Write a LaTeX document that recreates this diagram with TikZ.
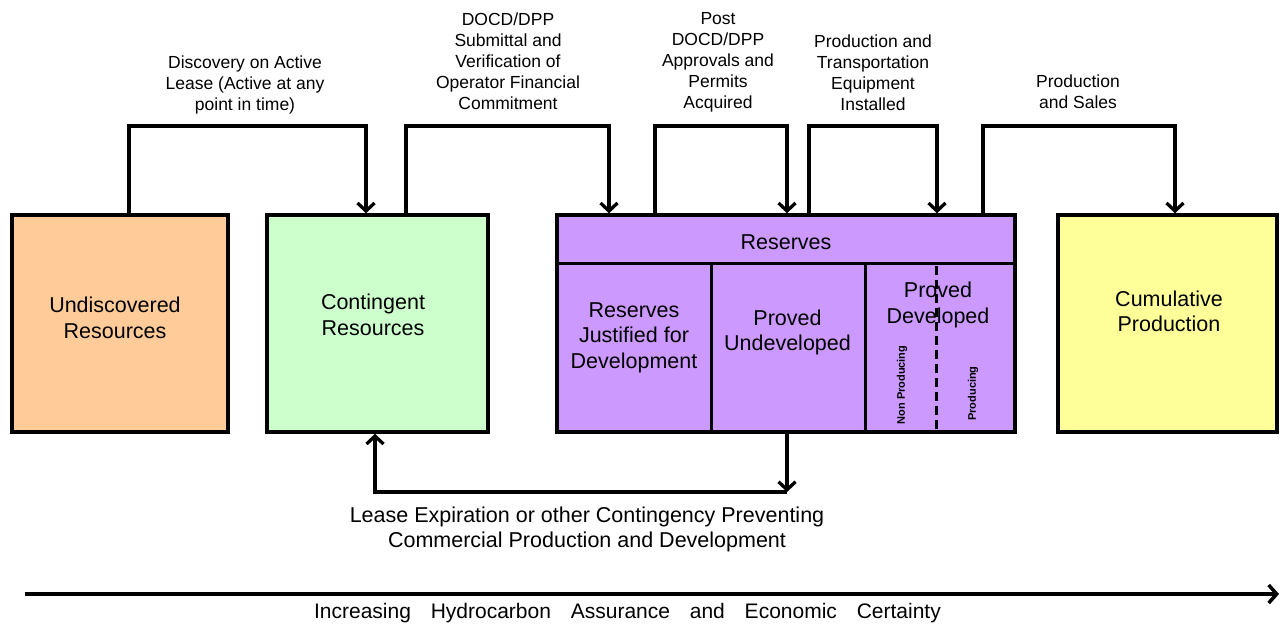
\documentclass[tikz,border=0pt]{standalone}
\usepackage{fontspec}
\setmainfont{Liberation Sans}
\usetikzlibrary{arrows.meta}
\definecolor{peach}{HTML}{FFCC99}
\definecolor{mint}{HTML}{CCFFCC}
\definecolor{lilac}{HTML}{CC99FF}
\definecolor{lemon}{HTML}{FFFF99}
\begin{document}
\begin{tikzpicture}[x=1pt,y=-1pt,
  box/.style={draw=black, line width=3.5pt, inner sep=0pt, minimum height=217pt},
  lbl/.style={font=\fontsize{21.5}{25.5}\selectfont, align=center, inner sep=0pt},
  toplbl/.style={font=\fontsize{17.5}{21}\selectfont, align=center, inner sep=0pt},
  small/.style={font=\bfseries\fontsize{11}{12}\selectfont, rotate=90, inner sep=0pt},
  conn/.style={line width=3.3pt, line join=miter},
  divider/.style={line width=3pt},
  arr/.style={-{Straight Barb[length=8pt,width=17pt]}}
]
\useasboundingbox (0,0) rectangle (1281,627);

% boxes
\node[box, fill=peach, minimum width=216pt] (und) at (120,323.5) {};
\node[box, fill=mint, minimum width=221pt] (cont) at (377.5,323.5) {};
\node[box, fill=lilac, minimum width=458pt] (res) at (786,323.5) {};
\node[box, fill=lemon, minimum width=219pt] (cum) at (1167.5,323.5) {};

% reserves subdivisions
\coordinate (hL) at (557,263);
\coordinate (hR) at (1015,263);
\draw[divider] (hL) -- (hR);
\draw[divider] (711,263) -- (res.south -| 711,0);
\draw[divider] (865,263) -- (res.south -| 865,0);

% box texts
\node[lbl] (undt) at (115,318) {Undiscovered\\Resources};
\node[lbl] (contt) at (373,315) {Contingent\\Resources};
\node[lbl] (rest) at (786,242) {Reserves};
\node[lbl] (rjd) at (634,337.5) {Reserves\\Justified for\\Development};
\node[lbl] (pud) at (787.5,332.5) {Proved\\Undeveloped};
\node[lbl] (pd) at (938,305) {Proved\\Developed};
\node[small] (np) at (902,385) {Non Producing};
\node[small] (pr) at (973,393.5) {Producing};
\node[lbl] (cumt) at (1169,311.5) {Cumulative\\Production};

\draw[divider, dash pattern=on 9pt off 5pt] (936,266) -- (res.south -| 936,0);

% top connectors
\draw[conn,arr] (und.north -| 129,0) -- (129,126) -- (366,126) -- (cont.north -| 366,0);
\draw[conn,arr] (cont.north -| 406,0) -- (406,126) -- (609,126) -- (res.north -| 609,0);
\draw[conn,arr] (res.north -| 655,0) -- (655,126) -- (787,126) -- (res.north -| 787,0);
\draw[conn,arr] (res.north -| 809,0) -- (809,126) -- (937,126) -- (res.north -| 937,0);
\draw[conn,arr] (res.north -| 983,0) -- (983,126) -- (1175,126) -- (cum.north -| 1175,0);

% top labels
\node[toplbl] (l1) at (245,85) {Discovery on Active\\Lease (Active at any\\point in time)};
\node[toplbl] (l2) at (508,61.5) {DOCD/DPP\\Submittal and\\Verification of\\Operator Financial\\Commitment};
\node[toplbl] (l3) at (718,62.5) {Post\\DOCD/DPP\\Approvals and\\Permits\\Acquired};
\node[toplbl] (l4) at (873,72.5) {Production and\\Transportation\\Equipment\\Installed};
\node[toplbl] (l5) at (1078,92) {Production\\and Sales};

% return connector
\coordinate (rc) at (787,492);
\draw[conn,arr] (res.south -| 787,0) -- (rc);
\draw[conn,arr] (rc) -- (375,492) -- (cont.south -| 375,0);
\node[lbl] (lease) at (587,529.5) {Lease Expiration or other Contingency Preventing\\Commercial Production and Development};

% axis
\coordinate (axL) at (25,594);
\coordinate (axR) at (1279,594);
\draw[line width=3.5pt, -{Straight Barb[length=8pt,width=18pt]}] (axL) -- (axR);
\node[font=\fontsize{21}{25}\selectfont, inner sep=0pt] (axt) at (627.5,613)
  {Increasing\hspace{14pt} Hydrocarbon\hspace{14pt} Assurance\hspace{14pt} and\hspace{14pt} Economic\hspace{14pt} Certainty};
\end{tikzpicture}
\end{document}
